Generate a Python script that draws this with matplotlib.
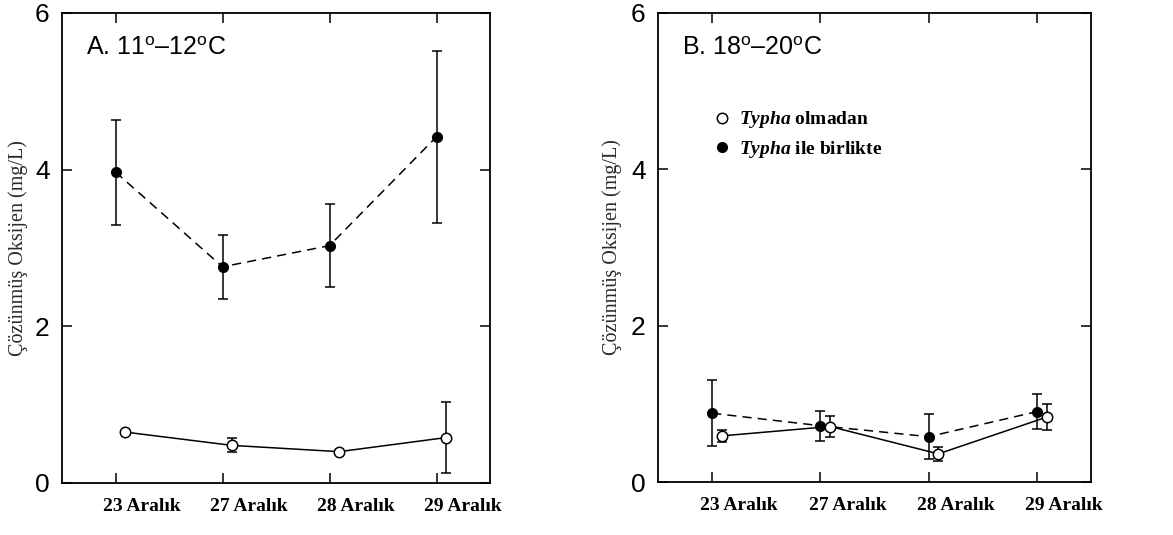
import numpy as np
import matplotlib
matplotlib.use("Agg")
import matplotlib.pyplot as plt
from matplotlib.lines import Line2D

plt.rcParams['mathtext.fontset'] = 'custom'
plt.rcParams['mathtext.sf'] = 'Liberation Sans'
plt.rcParams['mathtext.it'] = 'Liberation Serif:italic:bold'
plt.rcParams['mathtext.rm'] = 'Liberation Serif:bold'

dates = ["23 Aralık", "27 Aralık", "28 Aralık", "29 Aralık"]

# Panel A: 11-12 C
a_with = [3.97, 2.76, 3.03, 4.42]
a_with_err = [0.67, 0.41, 0.53, 1.10]
a_without = [0.65, 0.48, 0.40, 0.58]
a_without_err = [0.0, 0.09, 0.0, 0.45]

# Panel B: 18-20 C
b_with = [0.88, 0.72, 0.58, 0.90]
b_with_err = [0.42, 0.19, 0.29, 0.22]
b_without = [0.59, 0.71, 0.36, 0.83]
b_without_err = [0.08, 0.14, 0.09, 0.17]

titles = [r"A. 11$^{\mathsf{o}}$–12$^{\mathsf{o}}$C", r"B. 18$^{\mathsf{o}}$–20$^{\mathsf{o}}$C"]
ylabel = "Çözünmüş Oksijen (mg/L)"
legend_labels = [r"$\mathit{Typha}$ olmadan", r"$\mathit{Typha}$ ile birlikte"]

fig = plt.figure(figsize=(11.73, 5.35), dpi=100)
axA = fig.add_axes([62/1173, 52/535, 428/1173, 470/535])
axB = fig.add_axes([658/1173, 53/535, 433/1173, 469/535])

x = np.arange(len(dates))
open_shift = 0.09
label_shift = 0.25

def draw(ax, w, we, wo, woe, title, ylab_x):
    ax.errorbar(x, w, yerr=we, fmt='o', color='black', ls=(0, (6, 4)), lw=1.1,
                ms=7, mfc='black', mec='black', ecolor='black', elinewidth=1.1,
                capsize=3.5, capthick=1.1, zorder=3)
    ax.errorbar(x + open_shift, wo, yerr=woe, fmt='o', color='black', ls='-', lw=1.1,
                ms=7.5, mfc='white', mec='black', mew=1.1, ecolor='black', elinewidth=1.1,
                capsize=3.5, capthick=1.1, zorder=4)
    ax.set_xlim(-0.5, 3.5)
    ax.set_ylim(0, 6)
    ax.set_yticks([0, 2, 4, 6])
    ax.set_yticklabels(['0', '2', '4', '6'], family='Liberation Sans', fontsize=19)
    ax.set_xticks(x)
    ax.set_xticklabels([])
    ax.set_xticks(x + label_shift, minor=True)
    ax.set_xticklabels(dates, minor=True, family='Liberation Serif', weight='bold', fontsize=14)
    ax.tick_params(axis='both', which='major', direction='in', length=7, width=1.1,
                   top=True, right=True, pad=9)
    ax.tick_params(axis='x', which='minor', length=0, pad=11)
    for s in ax.spines.values():
        s.set_linewidth(1.3)
    ax.text(0.055, 0.952, title, transform=ax.transAxes, family='Liberation Sans',
            fontsize=18, va='top', ha='left')
    ax.set_ylabel(ylabel, family='Liberation Serif', fontsize=14.5, color='#2a2a2a')
    ax.yaxis.set_label_coords(ylab_x, 0.5)

draw(axA, a_with, a_with_err, a_without, a_without_err, titles[0], -0.079)
draw(axB, b_with, b_with_err, b_without, b_without_err, titles[1], -0.083)

handles = [Line2D([], [], ls='none', marker='o', ms=7.5, mfc='white', mec='black', mew=1.1),
           Line2D([], [], ls='none', marker='o', ms=7, mfc='black', mec='black')]
axB.legend(handles, legend_labels, loc='upper left', bbox_to_anchor=(0.103, 0.815),
           frameon=False, borderpad=0, handlelength=1.0, handletextpad=0.35,
           labelspacing=0.45, prop={'family': 'Liberation Serif', 'weight': 'bold', 'size': 14})

fig.savefig("out.png", dpi=100)
